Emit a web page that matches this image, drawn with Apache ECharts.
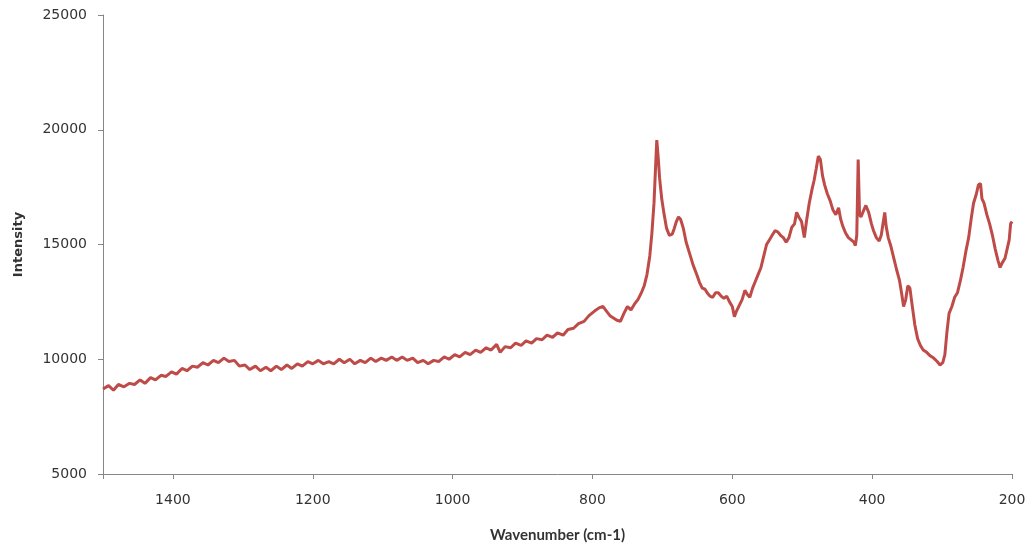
<!DOCTYPE html>
<html>
<head>
<meta charset="utf-8">
<script src="https://cdn.jsdelivr.net/npm/echarts@6/dist/echarts.min.js"></script>
<style>
html,body{margin:0;padding:0;background:#fff;}
#chart{width:1030px;height:552px;}
</style>
</head>
<body>
<div id="chart"></div>
<script>
const wavenumber = [
1500,1492,1485,1478,1470,1462,1455,1447,1440,1432,1425,1417,1410,1402,1395,1387,1380,1372,1365,1357,
1350,1342,1335,1327,1320,1312,1305,1297,1290,1282,1275,1267,1260,1252,1245,1237,1230,1222,1215,1207,
1200,1192,1185,1177,1170,1162,1155,1147,1140,1132,1125,1117,1110,1102,1095,1087,1080,1072,1065,1057,
1050,1042,1035,1027,1020,1012,1005,997,990,982,975,967,960,952,945,937,932,925,917,910,
902,895,887,880,872,865,857,850,842,835,827,820,812,805,797,790,785,780,775,770,
765,760,755,750,745,740,735,730,726,722,718,715,712,710,708,706,704,701,698,694,
690,686,683,680,677,674,670,666,661,656,651,647,643,639,636,632,628,624,620,616,
612,608,604,600,597,594,590,586,582,578,575,571,567,563,559,555,551,547,543,539,
535,531,527,523,519,515,511,508,505,501,497,494,490,486,483,480,477,474,471,468,
464,460,456,452,448,445,442,438,434,430,426,424,422,420,418,416,412,409,405,401,
398,394,390,387,384,382,380,377,373,369,365,361,358,355,352,349,346,343,339,335,
331,327,322,317,312,307,303,299,296,293,290,286,282,278,274,270,266,262,258,255,
251,248,245,243,240,236,232,228,224,220,217,214,210,207,204,202,200
];
const intensity = [
8700,8850,8650,8900,8800,8950,8900,9100,8950,9200,9100,9300,9250,9450,9350,9600,9500,9700,9650,9850,
9750,9950,9850,10050,9900,9950,9700,9750,9550,9700,9500,9650,9500,9700,9550,9750,9600,9800,9700,9900,
9800,9950,9800,9900,9800,10000,9850,10000,9800,9950,9850,10050,9900,10050,9950,10100,9950,10100,9950,10050,
9850,9950,9800,9950,9900,10100,10000,10200,10100,10300,10200,10400,10300,10500,10400,10650,10300,10550,10500,10700,
10600,10800,10700,10900,10850,11050,10950,11150,11050,11300,11350,11550,11650,11900,12100,12250,12300,12100,11900,11800,
11700,11650,12000,12300,12150,12400,12600,12900,13200,13700,14500,15500,16800,18200,19550,18800,17900,17000,16400,15700,
15400,15450,15700,16000,16200,16100,15700,15100,14600,14100,13700,13350,13100,13050,12900,12750,12700,12900,12900,12750,
12650,12750,12500,12300,11850,12100,12350,12600,13000,12800,12700,13100,13400,13700,14000,14500,15000,15200,15400,15600,
15550,15400,15300,15100,15300,15750,15900,16400,16200,16000,15300,16000,16800,17400,17800,18300,18850,18700,18000,17600,
17200,16900,16500,16300,16600,16100,15800,15500,15300,15200,15100,14950,15400,18700,16300,16200,16500,16700,16400,15900,
15600,15300,15150,15400,16000,16400,15800,15300,14900,14400,13900,13450,12900,12300,12600,13200,13100,12400,11500,10900,
10600,10400,10300,10150,10050,9900,9750,9850,10200,11200,12000,12300,12700,12900,13400,14000,14700,15300,16200,16800,
17200,17600,17650,17000,16800,16300,15900,15400,14800,14300,14000,14200,14400,14800,15200,15900,16000
];
const xTicks = [200, 400, 600, 800, 1000, 1200, 1400];
const yTicks = [5000, 10000, 15000, 20000, 25000];

const data = wavenumber.map((w, i) => [w, intensity[i]]);
const chart = echarts.init(document.getElementById('chart'), null, {renderer: 'canvas'});
const axisColor = '#868686';
const textColor = '#333';
chart.setOption({
  animation: false,
  backgroundColor: '#fff',
  grid: {left: 103, right: 18, top: 15, bottom: 78, containLabel: false},
  xAxis: {
    type: 'value',
    inverse: true,
    min: 200, max: 1500, interval: 200,
    name: 'Wavenumber (cm-1)',
    nameLocation: 'middle',
    nameGap: 54,
    nameTextStyle: {fontFamily: 'Lato', fontWeight: 'bold', fontSize: 15, color: textColor},
    axisLine: {lineStyle: {color: axisColor, width: 1}},
    axisTick: {show: true, length: 5, lineStyle: {color: axisColor}},
    axisLabel: {
      margin: 19, fontFamily: 'DejaVu Sans', fontSize: 14, color: textColor,
      formatter: v => xTicks.indexOf(v) >= 0 ? String(v) : ''
    },
    splitLine: {show: false}
  },
  yAxis: {
    type: 'value',
    min: 5000, max: 25000, interval: 5000,
    name: 'Intensity',
    nameLocation: 'middle',
    nameRotate: 90,
    nameGap: 78,
    nameTextStyle: {fontFamily: 'DejaVu Sans', fontWeight: 'bold', fontSize: 13, color: textColor},
    axisLine: {show: true, lineStyle: {color: axisColor, width: 1}},
    axisTick: {show: true, length: 5, lineStyle: {color: axisColor}},
    axisLabel: {
      margin: 16, fontFamily: 'DejaVu Sans', fontSize: 14, color: textColor,
      formatter: v => yTicks.indexOf(v) >= 0 ? String(v) : ''
    },
    splitLine: {show: false}
  },
  series: [{
    type: 'line',
    data: data,
    showSymbol: false,
    symbol: 'none',
    lineStyle: {color: '#BE4B48', width: 3},
    itemStyle: {color: '#BE4B48'}
  }]
});
</script>
</body>
</html>
